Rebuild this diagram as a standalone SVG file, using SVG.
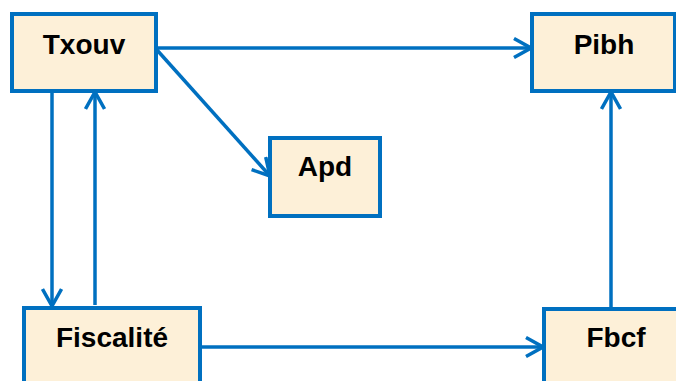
<svg xmlns="http://www.w3.org/2000/svg" width="676" height="381" viewBox="0 0 676 381">
<style>
.box{fill:#FDF0D8;stroke:#0070C0;stroke-width:4}
.lbl{font-family:"Liberation Sans",Arial,sans-serif;font-weight:bold;font-size:28px;fill:#000;text-anchor:middle}
.c{fill:none;stroke:#0070C0;stroke-width:3.5}
</style>
<defs>
<marker id="ah" viewBox="0 0 20 22" refX="18" refY="11" markerWidth="20" markerHeight="22" markerUnits="userSpaceOnUse" orient="auto">
<path d="M1,1.5 L18,11 L1,20.5" fill="none" stroke="#0070C0" stroke-width="3.5" stroke-linejoin="miter"/>
</marker>
</defs>
<g id="connectors">
<line class="c" x1="156" y1="48" x2="531" y2="48" marker-end="url(#ah)"/>
<line class="c" x1="157" y1="50" x2="270" y2="176" marker-end="url(#ah)"/>
<line class="c" x1="52" y1="91" x2="52" y2="306" marker-end="url(#ah)"/>
<line class="c" x1="95" y1="305" x2="95" y2="92" marker-end="url(#ah)"/>
<line class="c" x1="200" y1="347" x2="543" y2="347" marker-end="url(#ah)"/>
<line class="c" x1="611" y1="309" x2="611" y2="92" marker-end="url(#ah)"/>
</g>
<g id="Txouv"><rect class="box" x="12" y="14" width="144" height="77"/><text class="lbl" x="84" y="54">Txouv</text></g>
<g id="Pibh"><rect class="box" x="532" y="14" width="143" height="77"/><text class="lbl" x="604" y="54">Pibh</text></g>
<g id="Apd"><rect class="box" x="270" y="138" width="110" height="78"/><text class="lbl" x="325" y="176">Apd</text></g>
<g id="Fiscalite"><rect class="box" x="24" y="308" width="176" height="80"/><text class="lbl" x="112" y="347">Fiscalité</text></g>
<g id="Fbcf"><rect class="box" x="544" y="309" width="144" height="80"/><text class="lbl" x="616" y="347">Fbcf</text></g>
</svg>
